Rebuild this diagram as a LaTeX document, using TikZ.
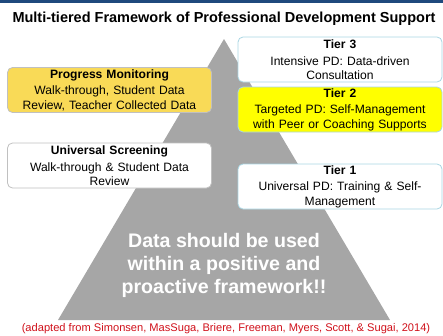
\documentclass[tikz,border=0pt]{standalone}
\usepackage{fontspec}
\setmainfont{Liberation Sans}
\usepackage{tikz}
\usetikzlibrary{positioning,shapes.geometric}

\definecolor{barblue}{HTML}{1F497D}
\definecolor{pyrgray}{HTML}{A6A6A6}
\definecolor{tierline}{HTML}{A9D6E3}
\definecolor{sideline}{HTML}{C0C0C0}
\definecolor{pmgold}{HTML}{F9DA57}
\definecolor{tieryellow}{HTML}{FFFF00}
\definecolor{citered}{HTML}{D0101A}

\tikzset{
    infobox/.style={draw, rounded corners=5pt, line width=0.8pt, align=center,
        text width=200pt, minimum width=204pt, minimum height=45pt,
        inner sep=1pt, font=\fontsize{12.1}{14.2}\selectfont},
    tierbox/.style={infobox, draw=tierline},
    sidebox/.style={infobox, draw=sideline}
}

\begin{document}
\begin{tikzpicture}[x=1pt, y=-1pt]
        \useasboundingbox (0,0) rectangle (443,335);

        % Balken oben
        \fill[barblue] (0,0) rectangle (443,3);
        \node (title) at (224,19) {\fontsize{14.5}{17}\selectfont\bfseries Multi-tiered Framework of Professional Development Support};

        % Pyramide
        \coordinate (apex) at (224,39);
        \coordinate (baseL) at (58,320);
        \coordinate (baseR) at (390,320);
        \fill[pyrgray] (apex) -- (baseR) -- (baseL) -- cycle;

        % Kaesten links
        \node[sidebox, fill=pmgold] (pm) at (109.5,90) {\textbf{Progress Monitoring}\\[2.5pt]Walk-through, Student Data\\Review, Teacher Collected Data};
        \node[sidebox, fill=white] (us) at (109.5,165.5) {\textbf{Universal Screening}\\[2.5pt]Walk-through \& Student Data\\Review};

        % Kaesten rechts
        \node[tierbox, fill=white] (tier3) at (340,59.5) {\textbf{Tier 3}\\[2.5pt]Intensive PD: Data-driven\\Consultation};
        \node[tierbox, fill=tieryellow] (tier2) at (340,109.5) {\textbf{Tier 2}\\[2.5pt]Targeted PD: Self-Management\\with Peer or Coaching Supports};
        \node[tierbox, fill=white] (tier1) at (340,186.5) {\textbf{Tier 1}\\[2.5pt]Universal PD: Training \& Self-\\Management};

        % Text in der Pyramide
        \node[align=center, text=white, font=\fontsize{19.6}{23}\selectfont\bfseries] (msg) at (224,265) {Data should be used\\within a positive and\\proactive framework!!};

        \node[text=citered, font=\fontsize{11.1}{13}\selectfont] (cite) at (226,329) {(adapted from Simonsen, MasSuga, Briere, Freeman, Myers, Scott, \& Sugai, 2014)};
    \end{tikzpicture}
\end{document}
